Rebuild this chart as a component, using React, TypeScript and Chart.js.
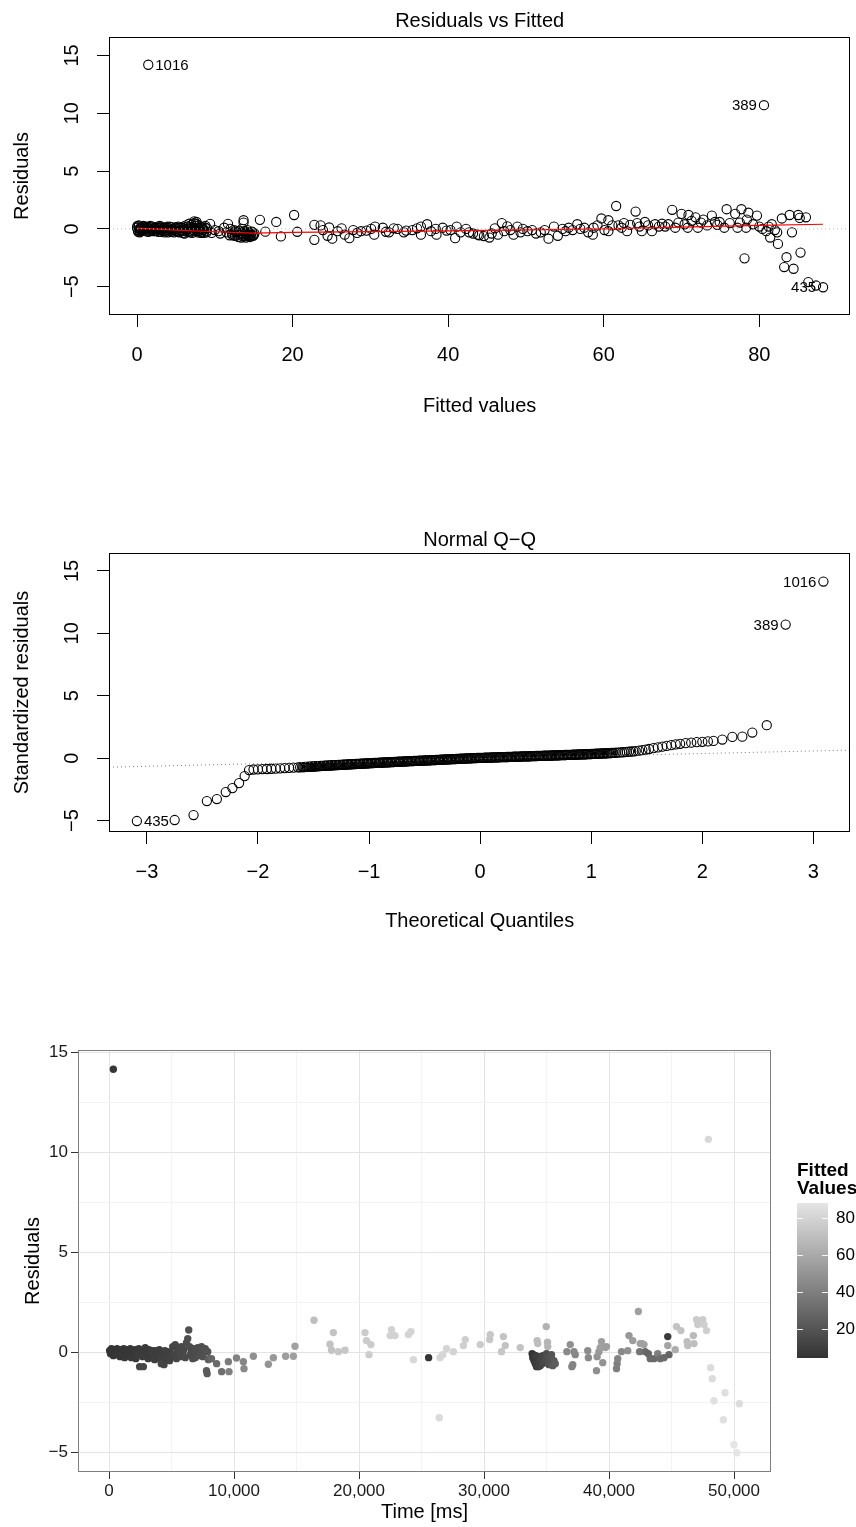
import React, { useEffect, useRef } from "react";
import { Chart, registerables } from "chart.js";
Chart.register(...registerables);

const FONT = "'Liberation Sans', Arial, Helvetica, sans-serif";

// ---------------- Panel 1: Residuals vs Fitted ----------------
const rvfTitle = "Residuals vs Fitted";
const rvfXTicks = [0, 20, 40, 60, 80];
const rvfYTicks = [-5, 0, 5, 10, 15];
const rvfXRange = [-3.6, 91.7];
const rvfYRange = [-7.45, 16.6];

// [fitted, residual]
const rvfLowCluster: [number, number][] = [
  [0.0, 0.1], [0.1, -0.1], [0.2, 0.2], [0.3, 0.0], [0.4, -0.2], [0.5, 0.15], [0.6, 0.05], [0.7, -0.1],
  [0.8, 0.25], [0.9, -0.05], [1.0, 0.1], [1.1, -0.2], [1.2, 0.2], [1.35, 0.0], [1.5, -0.15], [1.6, 0.15],
  [1.75, 0.05], [1.9, -0.1], [2.0, 0.2], [2.1, -0.2], [2.25, 0.1], [2.4, 0.0], [2.5, -0.15], [2.65, 0.2],
  [2.8, -0.05], [2.9, 0.1], [3.05, -0.25], [3.2, 0.15], [3.3, 0.0], [3.45, -0.2], [3.6, 0.1], [3.75, -0.05],
  [3.9, 0.2], [4.0, -0.3], [4.15, 0.05], [4.3, -0.15], [4.45, 0.15], [4.6, -0.05], [4.75, -0.3], [4.9, 0.1],
  [5.0, -0.2], [5.15, 0.0], [5.3, 0.2], [5.45, -0.3], [5.6, -0.1], [5.75, 0.1], [5.9, -0.35], [6.0, 0.05],
  [6.15, -0.2], [6.3, 0.3], [6.4, 0.0], [6.55, -0.25], [6.7, 0.45], [6.8, 0.15], [6.9, -0.15], [7.0, 0.35],
  [7.1, -0.35], [7.2, 0.1], [7.3, 0.5], [7.4, -0.2], [7.5, 0.25], [7.6, -0.05], [7.7, 0.4], [7.8, -0.3],
  [7.9, 0.1], [8.0, -0.15], [8.15, 0.2], [8.3, -0.25], [8.45, 0.0], [8.6, -0.35], [8.75, 0.1], [8.9, -0.2],
  [9.0, 0.05], [7.35, 0.65], [7.65, 0.6], [0.05, 0.25], [0.15, -0.25], [0.25, 0.3], [0.35, -0.3],
  [0.45, 0.0], [0.55, -0.15], [0.95, 0.2], [1.05, -0.05], [1.3, 0.1], [1.45, -0.25], [1.7, 0.25], [1.85, -0.2],
  [2.05, 0.0], [2.3, -0.2], [2.55, 0.1], [2.75, -0.25], [2.95, 0.25], [3.15, -0.1], [3.4, 0.05], [3.55, -0.3],
  [3.8, 0.1], [3.95, -0.15], [4.2, 0.2], [4.4, -0.25], [4.55, 0.0], [4.8, -0.1], [5.05, 0.15], [5.25, -0.25],
  [5.5, 0.1], [5.7, -0.2], [5.95, 0.2], [6.1, -0.4], [6.35, -0.1], [6.6, 0.2], [6.85, -0.3], [7.05, 0.15],
  [7.25, -0.1], [7.45, 0.05], [7.55, 0.45], [7.75, -0.15], [7.95, 0.3], [8.2, -0.35], [8.4, 0.15], [8.55, -0.1],
  [8.8, 0.25], [8.95, -0.3],
];
const rvfMidCluster: [number, number][] = [
  [9.4, 0.43], [9.6, -0.35], [10.0, -0.1], [10.5, -0.2], [10.7, -0.4], [11.2, 0.1], [11.7, 0.43], [11.5, -0.3],
  [11.9, -0.55], [12.0, 0.0], [12.2, -0.4], [12.4, -0.1], [12.6, -0.6], [12.8, -0.3], [13.0, -0.7], [13.1, -0.2],
  [13.3, -0.5], [13.4, -0.75], [13.5, 0.0], [13.6, -0.4], [13.7, 0.75], [13.7, 0.55], [13.8, -0.6], [13.9, -0.2],
  [14.0, -0.75], [14.1, -0.45], [14.2, -0.1], [14.3, -0.6], [14.4, -0.35], [14.5, -0.7], [14.6, -0.5], [14.8, -0.25],
  [14.9, -0.6], [15.1, -0.4], [12.3, -0.55], [12.5, -0.3], [12.7, -0.15], [12.9, -0.5], [13.2, -0.35], [13.6, -0.65],
  [13.85, -0.35], [14.05, -0.55], [14.25, -0.3], [14.45, -0.5], [14.7, -0.65], [15.0, -0.55],
];
const rvfSpread: [number, number][] = [
  [15.8, 0.78], [16.5, -0.24], [17.9, 0.6], [18.5, -0.65], [20.2, 1.2], [20.6, -0.25], [22.8, 0.35], [22.8, -0.95],
  [23.6, 0.3], [23.9, -0.1], [24.5, -0.6], [24.7, 0.12], [25.1, -0.85], [25.8, -0.2], [26.3, 0.05], [26.7, -0.5],
  [27.3, -0.8], [27.8, -0.1], [28.3, -0.35], [28.8, -0.2], [29.5, -0.15], [30.1, 0.0], [30.6, 0.2], [30.5, -0.5],
  [31.6, 0.1], [32.0, -0.25], [32.4, -0.3], [33.0, 0.05], [33.5, 0.0], [34.3, -0.3], [34.6, -0.15], [35.4, -0.1],
  [36.0, 0.05], [36.5, 0.2], [36.5, -0.5], [37.3, 0.4], [37.8, -0.2], [38.4, 0.0], [38.5, -0.5], [39.3, 0.1],
  [39.8, -0.15], [40.3, -0.1], [40.9, -0.8], [41.1, 0.2], [41.6, -0.3], [42.3, 0.0], [42.7, -0.3], [43.2, -0.4],
  [43.8, -0.5], [44.0, -0.55], [44.6, -0.62], [45.3, -0.75], [45.6, -0.4], [46.0, 0.05], [46.4, -0.5], [46.9, 0.5],
  [47.2, -0.2], [47.6, 0.22], [48.0, -0.1], [48.4, -0.5], [48.9, 0.2], [49.3, -0.3], [49.6, 0.0], [50.2, -0.2],
  [50.8, -0.1], [51.3, -0.4], [51.9, -0.3], [52.4, -0.1], [52.9, -0.85], [53.6, 0.2], [54.1, -0.6], [54.7, 0.0],
  [55.1, -0.2], [55.5, 0.1], [56.0, -0.1], [56.6, 0.4], [57.0, 0.0], [57.5, 0.1], [58.0, -0.3], [58.6, -0.5],
  [58.7, 0.1], [59.2, 0.3], [59.7, 0.9], [60.1, -0.1], [60.6, 0.75], [60.6, -0.2], [61.1, 0.3], [61.6, 1.98],
  [61.9, 0.3], [62.3, 0.1], [62.6, 0.5], [63.0, -0.2], [63.4, 0.35], [64.1, 1.5], [64.3, 0.5], [64.6, 0.2],
  [64.9, -0.2], [65.3, 0.6], [65.7, 0.3], [66.2, -0.2], [66.6, 0.4], [67.1, 0.2], [67.5, 0.45], [67.9, 0.2],
  [68.3, 0.4], [68.8, 1.65], [69.2, 0.1], [69.6, 0.55], [70.0, 1.3], [70.4, 0.4], [70.8, 0.1], [70.9, 1.2],
  [71.3, 0.7], [71.8, 1.0], [72.1, 0.1], [72.5, 0.55], [72.8, 0.8], [73.3, 0.3], [73.9, 1.15], [74.3, 0.6],
  [74.6, 0.35], [74.9, 0.6], [75.5, 0.1], [75.8, 1.7], [76.2, 0.5], [76.9, 1.3], [77.2, 0.1], [77.5, 0.55],
  [77.7, 1.7], [78.1, -2.55], [78.3, 0.1], [78.4, 0.8], [78.6, 1.4], [79.2, 0.4], [79.7, 1.15], [80.0, 0.2],
  [80.4, 0.0], [80.9, -0.2], [81.2, 0.2], [81.4, -0.75], [81.6, 0.4], [82.0, -0.1], [82.3, -0.3], [82.4, -1.3],
  [82.9, 0.9], [83.2, -3.3], [83.5, -2.45], [83.9, 1.2], [84.2, -0.3], [84.4, -3.45], [85.0, 1.2], [85.2, 0.95],
  [85.3, -2.05], [86.0, 1.0], [86.3, -4.6], [87.3, -4.9],
];
// [label, fitted, residual]
const rvfIds: [string, number, number][] = [
  ["1016", 1.45, 14.2],
  ["389", 80.6, 10.7],
  ["435", 88.2, -5.05],
];
const lowessFitted = [0, 5, 10, 15, 20, 30, 40, 50, 60, 70, 80, 88.2];
const lowessResid = [0.06, -0.1, -0.25, -0.37, -0.3, -0.24, -0.18, -0.08, 0.0, 0.15, 0.3, 0.4];

// ---------------- Panel 2: Normal Q-Q ----------------
const qqTitle = "Normal Q\u2212Q";
const qqXTicks = [-3, -2, -1, 0, 1, 2, 3];
const qqYTicks = [-5, 0, 5, 10, 15];
const qqXRange = [-3.341, 3.332];
const qqYRange = [-5.92, 16.44];
const qqLineIntercept = -0.039;
const qqLineSlope = 0.2045;
// [theoretical quantile, standardized residual]
const qqLowerTail: [number, number][] = [
  [-3.09, -5.04], [-2.75, -4.96], [-2.58, -4.56], [-2.46, -3.44], [-2.37, -3.28], [-2.29, -2.72],
  [-2.23, -2.4], [-2.17, -2.0], [-2.12, -1.44], [-2.08, -0.96],
  [-2.04, -0.91], [-2.0, -0.9], [-1.96, -0.88], [-1.92, -0.87], [-1.88, -0.85], [-1.84, -0.84], [-1.8, -0.82],
  [-1.76, -0.8], [-1.72, -0.78], [-1.68, -0.76], [-1.64, -0.74], [-1.62, -0.73],
];
const qqBand: [number, number][] = [
  [-1.6, -0.72], [-1.58, -0.71], [-1.56, -0.7], [-1.54, -0.69], [-1.52, -0.68], [-1.5, -0.67], [-1.48, -0.655],
  [-1.46, -0.645], [-1.44, -0.63], [-1.42, -0.62], [-1.4, -0.61], [-1.38, -0.6], [-1.36, -0.59], [-1.34, -0.58],
  [-1.32, -0.57], [-1.3, -0.56], [-1.28, -0.55], [-1.26, -0.54], [-1.24, -0.53], [-1.22, -0.52], [-1.2, -0.51],
  [-1.18, -0.5], [-1.16, -0.49], [-1.14, -0.48], [-1.12, -0.47], [-1.1, -0.46], [-1.08, -0.45], [-1.06, -0.44],
  [-1.04, -0.43], [-1.02, -0.42], [-1.0, -0.41], [-0.98, -0.4], [-0.96, -0.39], [-0.94, -0.385], [-0.92, -0.375],
  [-0.9, -0.365], [-0.88, -0.355], [-0.86, -0.345], [-0.84, -0.34], [-0.82, -0.33], [-0.8, -0.32], [-0.78, -0.31],
  [-0.76, -0.3], [-0.74, -0.29], [-0.72, -0.285], [-0.7, -0.275], [-0.68, -0.265], [-0.66, -0.255], [-0.64, -0.245],
  [-0.62, -0.24], [-0.6, -0.23], [-0.58, -0.22], [-0.56, -0.215], [-0.54, -0.205], [-0.52, -0.2], [-0.5, -0.19],
  [-0.48, -0.18], [-0.46, -0.175], [-0.44, -0.165], [-0.42, -0.16], [-0.4, -0.15], [-0.38, -0.14], [-0.36, -0.13],
  [-0.34, -0.12], [-0.32, -0.11], [-0.3, -0.105], [-0.28, -0.095], [-0.26, -0.085], [-0.24, -0.075], [-0.22, -0.07],
  [-0.2, -0.06], [-0.18, -0.05], [-0.16, -0.04], [-0.14, -0.035], [-0.12, -0.025], [-0.1, -0.015], [-0.08, -0.01],
  [-0.06, 0.0], [-0.04, 0.005], [-0.02, 0.015], [0.0, 0.02], [0.02, 0.025], [0.04, 0.03], [0.06, 0.04],
  [0.08, 0.045], [0.1, 0.05], [0.12, 0.055], [0.14, 0.06], [0.16, 0.07], [0.18, 0.075], [0.2, 0.08],
  [0.22, 0.085], [0.24, 0.09], [0.26, 0.095], [0.28, 0.1], [0.3, 0.11], [0.32, 0.115], [0.34, 0.12],
  [0.36, 0.125], [0.38, 0.135], [0.4, 0.14], [0.42, 0.145], [0.44, 0.15], [0.46, 0.155], [0.48, 0.16],
  [0.5, 0.17], [0.52, 0.175], [0.54, 0.18], [0.56, 0.185], [0.58, 0.195], [0.6, 0.2], [0.62, 0.205],
  [0.64, 0.21], [0.66, 0.215], [0.68, 0.225], [0.7, 0.23], [0.72, 0.235], [0.74, 0.24], [0.76, 0.25],
  [0.78, 0.255], [0.8, 0.26], [0.82, 0.265], [0.84, 0.275], [0.86, 0.28], [0.88, 0.29], [0.9, 0.295],
  [0.92, 0.3], [0.94, 0.31], [0.96, 0.315], [0.98, 0.325], [1.0, 0.33], [1.02, 0.34], [1.04, 0.35],
  [1.06, 0.36], [1.08, 0.365], [1.1, 0.375], [1.12, 0.385], [1.14, 0.39], [1.16, 0.4], [1.18, 0.41],
  [1.2, 0.42], [1.22, 0.43], [1.24, 0.445], [1.26, 0.455], [1.28, 0.47], [1.3, 0.485], [1.32, 0.5],
  [1.34, 0.515], [1.36, 0.53], [1.38, 0.545], [1.4, 0.56],
];
// the densest, solid-looking core of the Q-Q band
const qqBandCore: [number, number][] = [
  [-1.59, -0.715], [-1.57, -0.705], [-1.55, -0.695], [-1.53, -0.685], [-1.51, -0.675], [-1.49, -0.662],
  [-1.47, -0.65], [-1.45, -0.637], [-1.43, -0.625], [-1.41, -0.615], [-1.39, -0.605], [-1.37, -0.595],
  [-1.35, -0.585], [-1.33, -0.575], [-1.31, -0.565], [-1.29, -0.555], [-1.27, -0.545], [-1.25, -0.535],
  [-1.23, -0.525], [-1.21, -0.515], [-1.19, -0.505], [-1.17, -0.495], [-1.15, -0.485], [-1.13, -0.475],
  [-1.11, -0.465], [-1.09, -0.455], [-1.07, -0.445], [-1.05, -0.435], [-1.03, -0.425], [-1.01, -0.415],
  [-0.99, -0.405], [-0.97, -0.395], [-0.95, -0.388], [-0.93, -0.38], [-0.91, -0.37], [-0.89, -0.36],
  [-0.87, -0.35], [-0.85, -0.342], [-0.83, -0.335], [-0.81, -0.325], [-0.79, -0.315], [-0.77, -0.305],
  [-0.75, -0.295], [-0.73, -0.288], [-0.71, -0.28], [-0.69, -0.27], [-0.67, -0.26], [-0.65, -0.25],
  [-0.63, -0.242], [-0.61, -0.235], [-0.59, -0.225], [-0.57, -0.218], [-0.55, -0.21], [-0.53, -0.202],
  [-0.51, -0.195], [-0.49, -0.185], [-0.47, -0.178], [-0.45, -0.17], [-0.43, -0.162], [-0.41, -0.155],
  [-0.39, -0.145], [-0.37, -0.135], [-0.35, -0.125], [-0.33, -0.115], [-0.31, -0.108], [-0.29, -0.1],
  [-0.27, -0.09], [-0.25, -0.08], [-0.23, -0.072], [-0.21, -0.065], [-0.19, -0.055], [-0.17, -0.045],
  [-0.15, -0.038], [-0.13, -0.03], [-0.11, -0.02], [-0.09, -0.012], [-0.07, -0.005], [-0.05, 0.003],
  [-0.03, 0.01], [-0.01, 0.018], [0.01, 0.022], [0.03, 0.028], [0.05, 0.035], [0.07, 0.042],
  [0.09, 0.048], [0.11, 0.052], [0.13, 0.058], [0.15, 0.065], [0.17, 0.072], [0.19, 0.078],
  [0.21, 0.082], [0.23, 0.088], [0.25, 0.092], [0.27, 0.098], [0.29, 0.105], [0.31, 0.112],
  [0.33, 0.118], [0.35, 0.122], [0.37, 0.13], [0.39, 0.138], [0.41, 0.142], [0.43, 0.148],
  [0.45, 0.152], [0.47, 0.158], [0.49, 0.165], [0.51, 0.172], [0.53, 0.178], [0.55, 0.182],
  [0.57, 0.19], [0.59, 0.198], [0.61, 0.202], [0.63, 0.208], [0.65, 0.212], [0.67, 0.22],
  [0.69, 0.228], [0.71, 0.232], [0.73, 0.238], [0.75, 0.245], [0.77, 0.252], [0.79, 0.258],
  [0.81, 0.262], [0.83, 0.27], [0.85, 0.278], [0.87, 0.285], [0.89, 0.292], [0.91, 0.298],
  [0.93, 0.305], [0.95, 0.312], [0.97, 0.32], [0.99, 0.328], [1.01, 0.335], [1.03, 0.345],
  [1.05, 0.355], [1.07, 0.362], [1.09, 0.37], [1.11, 0.38], [1.13, 0.388], [1.15, 0.395],
  [1.17, 0.405], [1.19, 0.415],
];
const qqUpperTail: [number, number][] = [
  [1.43, 0.6], [1.46, 0.64], [1.49, 0.68], [1.52, 0.73], [1.56, 0.8], [1.6, 0.86],
  [1.64, 0.92], [1.68, 0.98], [1.72, 1.04], [1.76, 1.1], [1.8, 1.15], [1.85, 1.2], [1.9, 1.24], [1.95, 1.28],
  [2.0, 1.31], [2.05, 1.34], [2.1, 1.38], [2.18, 1.49], [2.27, 1.7], [2.36, 1.72], [2.45, 2.05], [2.58, 2.64],
];
const qqIds: [string, number, number][] = [
  ["1016", 3.09, 14.15],
  ["389", 2.75, 10.7],
  ["435", -3.09, -5.04],
];

// ---------------- Panel 3: Residuals over time ----------------
const timeXMajor = [0, 10000, 20000, 30000, 40000, 50000];
const timeXGrid = [0, 5000, 10000, 15000, 20000, 25000, 30000, 35000, 40000, 45000, 50000];
const timeYMajor = [-5, 0, 5, 10, 15];
const timeYGrid = [-5, -2.5, 0, 2.5, 5, 7.5, 10, 12.5, 15];
const timeXRange = [-2480, 52960];
const timeYRange = [-5.96, 15.11];
const legendTicks = [20, 40, 60, 80];
// [time ms, residual, fitted]
const timeEarly: [number, number, number][] = [
  [50, 0.1, 4.2], [120, -0.05, 4.5], [200, 0.2, 4.3], [280, 0.0, 5], [350, -0.15, 4.6], [347, 14.15, 5.5],
  [430, 0.15, 5], [500, 0.05, 4.4], [580, -0.1, 5.2], [650, 0.2, 4.8], [730, -0.05, 5.5], [800, 0.1, 5],
  [880, -0.2, 5.8], [950, 0.15, 5.2], [1030, 0.0, 5], [1100, -0.1, 6], [1180, 0.2, 5.5], [1250, -0.25, 6.5],
  [1330, 0.05, 6], [1400, 0.15, 5.5], [1480, -0.15, 6.5], [1550, 0.1, 6], [1630, -0.05, 6.5], [1700, 0.2, 6],
  [1780, -0.25, 7], [1850, 0.0, 6.5], [1930, 0.1, 6], [2000, -0.15, 7], [2080, 0.15, 6.5], [2150, -0.3, 7.5],
  [2230, 0.05, 7], [2300, -0.1, 7.5], [2380, 0.2, 7], [2450, -0.7, 12], [2530, -0.05, 7.5], [2600, 0.1, 7.5],
  [2680, -0.2, 8], [2750, -0.7, 13], [2830, 0.0, 8], [2900, 0.25, 7.5], [2980, -0.15, 8], [3050, 0.05, 8],
  [3130, -0.3, 8.5], [3200, 0.15, 8], [3280, -0.1, 8.5], [3350, 0.0, 8.5], [3430, -0.25, 9], [3500, 0.1, 8.5],
  [3580, -0.05, 9], [3650, -0.35, 9.5], [3730, 0.1, 9], [3800, -0.2, 9.5], [3880, 0.05, 9], [3950, -0.1, 9.5],
  [4030, 0.15, 9], [4100, -0.3, 10], [4180, -0.55, 12], [4250, -0.15, 10], [4330, 0.0, 10], [4400, -0.6, 12],
  [4480, 0.1, 10], [4550, -0.25, 10.5], [4630, -0.35, 11], [4700, 0.05, 10.5], [4780, -0.15, 11], [4850, -0.4, 11.5],
  [4930, 0.0, 11], [5000, -0.2, 11.5], [5100, 0.3, 12], [5200, -0.1, 12], [5300, 0.4, 13], [5400, -0.3, 12.5],
  [5500, 0.1, 13], [5600, 0.05, 13], [5700, -0.2, 13.5], [5800, 0.3, 14], [5900, -0.05, 14], [6000, 0.15, 14],
  [6100, -0.25, 14.5], [6200, 0.5, 16], [6300, 0.7, 17], [6380, 1.13, 18], [6450, 0.3, 16], [6500, -0.1, 15],
  [6600, 0.1, 15], [6700, -0.3, 15.5], [6800, 0.2, 16], [6900, -0.25, 16], [7000, 0.0, 16], [7100, 0.25, 16.5],
  [7200, -0.15, 17], [7300, 0.05, 17], [7400, 0.3, 17.5], [7500, -0.2, 18], [7600, 0.1, 18], [7700, 0.2, 18],
  [7800, -0.9, 22], [7850, -1.05, 22], [7900, 0.05, 19], [7950, -0.35, 26], [8000, -0.3, 24],
];
const timeMiddle: [number, number, number][] = [
  [8200, -0.3, 28], [8610, -0.55, 30], [9010, -0.95, 32], [9550, -0.45, 38], [9600, -0.95, 40], [10200, -0.27, 42],
  [10750, -0.45, 44], [10800, -0.8, 45], [11550, -0.18, 48], [12750, -0.58, 50], [13150, -0.25, 52], [14130, -0.18, 54],
  [14750, -0.18, 55], [14880, 0.32, 56], [16400, 1.62, 70], [17680, 0.42, 72], [17950, 1.0, 72], [17800, 0.12, 72],
  [18350, 0.05, 74], [18880, 0.12, 74], [20480, 1.0, 76], [20600, 0.6, 76], [20950, 0.4, 76], [20800, -0.1, 77],
  [22600, 1.15, 79], [22500, 0.85, 79], [22880, 0.85, 79], [23950, 0.9, 80], [24150, 1.05, 80], [24350, -0.35, 82],
  [25570, -0.25, 5], [26420, -3.25, 83], [26480, -0.25, 81], [26700, -0.1, 81], [27000, 0.2, 80], [27550, 0.05, 80],
  [28350, 0.35, 78], [28500, 0.65, 78], [29700, 0.4, 76], [30450, 0.65, 74], [30500, 0.9, 74], [31550, 0.8, 72],
  [31700, 0.35, 72], [31400, 0.05, 74], [32900, 0.25, 72], [34250, 0.6, 70], [34300, 0.45, 70], [34980, 1.3, 64],
  [35080, 0.52, 66], [35100, 0.3, 66],
  [33850, -0.05, 5], [33900, -0.25, 6], [33950, -0.1, 5], [34000, -0.4, 6], [34050, -0.3, 7], [34100, -0.55, 8],
  [34150, -0.15, 8], [34200, -0.7, 9], [34250, -0.6, 9], [34300, -0.2, 10], [34350, -0.7, 10], [34400, -0.45, 10],
  [34450, -0.2, 10], [34500, -0.65, 11], [34550, -0.3, 11], [34600, -0.3, 12], [34650, -0.55, 12], [34700, -0.15, 13],
  [34750, -0.35, 13], [34800, -0.5, 14], [34900, -0.35, 15], [35000, -0.05, 16], [35100, -0.25, 17], [35150, -0.45, 17],
  [35200, -0.6, 18], [35300, -0.4, 19], [35350, -0.2, 19], [35400, -0.1, 20], [35500, -0.65, 22], [35600, -0.4, 22],
  [35700, -0.55, 24],
];
const timeLate: [number, number, number][] = [
  [36630, 0.05, 45], [36900, 0.4, 48], [37030, -0.7, 42], [37100, -0.6, 42], [37200, 0.05, 45], [37300, -0.1, 44],
  [38300, 0.1, 46], [38350, -0.25, 45], [39000, -0.9, 48], [39050, -0.2, 50], [39200, 0.05, 52], [39300, 0.25, 55],
  [39400, 0.55, 55], [39500, -0.5, 50], [39700, 0.25, 56], [39800, 0.3, 54], [40600, -0.8, 40], [40650, -0.55, 40],
  [40700, -0.3, 42], [41000, 0.05, 45], [41500, 0.1, 48], [41600, 0.85, 52], [41900, 0.6, 54], [42350, 2.05, 55],
  [42450, 0.05, 35], [42500, 0.45, 56], [42650, 0.45, 56], [42800, 0.4, 56], [42900, 0.05, 30], [43150, -0.05, 28],
  [43300, -0.3, 30], [43600, -0.3, 30], [43900, -0.05, 40], [44100, -0.3, 32], [44400, -0.25, 30], [44700, 0.35, 58],
  [44700, 0.8, 8], [44800, -0.1, 28], [45300, 0.15, 62], [45400, 1.3, 72], [45750, 1.1, 72], [46250, 0.55, 70],
  [46300, 0.35, 70], [46750, 0.85, 68], [46800, 0.45, 70], [47000, 1.65, 76], [47100, 1.4, 76], [47500, 1.65, 76],
  [47600, 1.4, 78], [47800, 1.1, 78], [47950, 10.65, 82], [48130, -0.75, 84], [48260, -1.3, 84], [48400, -2.4, 86],
  [49150, -3.35, 86], [49280, -2.0, 85], [50000, -4.6, 88], [50220, -5.0, 88.2], [50430, -2.55, 84],
];

const GREY_LOW = 51;
const GREY_HIGH = 229;

const fmtMinus = (v: number) => (v < 0 ? "\u2212" + Math.abs(v) : String(v));
const fmtThousands = (v: number) => v.toLocaleString("en-US");

function rDecor(title: string, titleY: number, yTicks: number[], ids: [string, number, number][], midX: number, refLine: { color: string; fn: (x: number) => number }) {
  return {
    id: "rDecor" + title.length,
    afterDatasetsDraw(chart: any) {
      const { ctx, chartArea: a, scales } = chart;
      ctx.save();
      ctx.beginPath();
      ctx.rect(a.left, a.top, a.right - a.left, a.bottom - a.top);
      ctx.clip();
      ctx.strokeStyle = refLine.color;
      ctx.lineWidth = 1;
      ctx.setLineDash([1, 3]);
      const x0 = scales.x.min, x1 = scales.x.max;
      ctx.beginPath();
      ctx.moveTo(scales.x.getPixelForValue(x0), scales.y.getPixelForValue(refLine.fn(x0)));
      ctx.lineTo(scales.x.getPixelForValue(x1), scales.y.getPixelForValue(refLine.fn(x1)));
      ctx.stroke();
      ctx.restore();
    },
    afterDraw(chart: any) {
      const { ctx, chartArea: a, scales } = chart;
      ctx.save();
      ctx.strokeStyle = "#000";
      ctx.lineWidth = 1;
      ctx.strokeRect(Math.round(a.left) + 0.5, Math.round(a.top) + 0.5, Math.round(a.right - a.left) - 1, Math.round(a.bottom - a.top) - 1);
      ctx.fillStyle = "#000";
      ctx.font = `20px ${FONT}`;
      ctx.textAlign = "center";
      ctx.textBaseline = "middle";
      ctx.fillText(title, (a.left + a.right) / 2, titleY);
      for (const v of yTicks) {
        const py = scales.y.getPixelForValue(v);
        ctx.save();
        ctx.translate(72, py);
        ctx.rotate(-Math.PI / 2);
        ctx.fillText(fmtMinus(v), 0, 0);
        ctx.restore();
      }
      ctx.font = `15px ${FONT}`;
      for (const [lab, x, y] of ids) {
        const px = scales.x.getPixelForValue(x);
        const py = scales.y.getPixelForValue(y);
        if (x > midX) {
          ctx.textAlign = "right";
          ctx.fillText(lab, px - 7, py + 1);
        } else {
          ctx.textAlign = "left";
          ctx.fillText(lab, px + 7, py + 1);
        }
      }
      ctx.restore();
    },
  };
}

function rAxes(xRange: number[], yRange: number[], xTicks: number[], yTicks: number[], xTitle: string, yTitle: string, xHeight: number, xTitlePad: number) {
  const grid = { drawOnChartArea: false, drawTicks: true, tickLength: 12, tickColor: "#000", color: "#000", lineWidth: 1 };
  return {
    x: {
      type: "linear",
      min: xRange[0],
      max: xRange[1],
      afterBuildTicks: (s: any) => { s.ticks = xTicks.map((v) => ({ value: v })); },
      afterFit: (s: any) => { s.height = xHeight; },
      ticks: { callback: (v: number) => fmtMinus(v), font: { size: 20, family: FONT }, color: "#000", padding: 16, maxRotation: 0, autoSkip: false },
      grid,
      border: { display: false },
      title: { display: true, text: xTitle, font: { size: 20, family: FONT }, color: "#000", padding: { top: 0, bottom: xTitlePad } },
    },
    y: {
      type: "linear",
      min: yRange[0],
      max: yRange[1],
      afterBuildTicks: (s: any) => { s.ticks = yTicks.map((v) => ({ value: v })); },
      afterFit: (s: any) => { s.width = 109; },
      ticks: { display: false },
      grid,
      border: { display: false },
      title: { display: true, text: yTitle, font: { size: 20, family: FONT }, color: "#000", padding: { top: 10, bottom: 0 } },
    },
  };
}

const circleStyle = { pointStyle: "circle", pointRadius: 4.6, pointBorderWidth: 1.1, pointBorderColor: "#000", pointBackgroundColor: "rgba(0,0,0,0)", showLine: false };

function cfgRvf(): any {
  const pts = [...rvfLowCluster, ...rvfMidCluster, ...rvfSpread, ...rvfIds.map((d) => [d[1], d[2]] as [number, number])];
  const xs = pts.map((p) => p[0]);
  const midX = (Math.min(...xs) + Math.max(...xs)) / 2;
  return {
    type: "scatter",
    data: {
      datasets: [
        { type: "line", data: lowessFitted.map((x, i) => ({ x, y: lowessResid[i] })), borderColor: "#ff0000", borderWidth: 1.2, pointRadius: 0, showLine: true, fill: false, tension: 0 },
        { data: pts.map(([x, y]) => ({ x, y })), ...circleStyle },
      ],
    },
    options: {
      animation: false, responsive: false, maintainAspectRatio: false, events: [],
      layout: { padding: { left: 0, top: 37, right: 4, bottom: 0 } },
      plugins: { legend: { display: false }, tooltip: { enabled: false }, title: { display: false } },
      scales: rAxes(rvfXRange, rvfYRange, rvfXTicks, rvfYTicks, "Fitted values", "Residuals", 135, 32),
    },
    plugins: [rDecor(rvfTitle, 21, rvfYTicks, rvfIds, midX, { color: "#bebebe", fn: () => 0 })],
  };
}

function cfgQQ(): any {
  const pts = [...qqLowerTail, ...qqBand, ...qqBandCore, ...qqUpperTail, [qqIds[1][1], qqIds[1][2]] as [number, number], [qqIds[0][1], qqIds[0][2]] as [number, number]];
  const xs = pts.map((p) => p[0]);
  const midX = (Math.min(...xs) + Math.max(...xs)) / 2;
  return {
    type: "scatter",
    data: { datasets: [{ data: pts.map(([x, y]) => ({ x, y })), ...circleStyle }] },
    options: {
      animation: false, responsive: false, maintainAspectRatio: false, events: [],
      layout: { padding: { left: 0, top: 73, right: 4, bottom: 0 } },
      plugins: { legend: { display: false }, tooltip: { enabled: false }, title: { display: false } },
      scales: rAxes(qqXRange, qqYRange, qqXTicks, qqYTicks, "Theoretical Quantiles", "Standardized residuals", 128, 27),
    },
    plugins: [rDecor(qqTitle, 60, qqYTicks, qqIds, midX, { color: "#7f7f7f", fn: (x) => qqLineIntercept + qqLineSlope * x })],
  };
}

function cfgTime(): any {
  const pts = [...timeEarly, ...timeMiddle, ...timeLate];
  const fs = pts.map((p) => p[2]);
  const fMin = Math.min(...fs);
  const fMax = Math.max(...fs);
  const grey = (f: number) => {
    const c = Math.round(GREY_LOW + ((f - fMin) / (fMax - fMin)) * (GREY_HIGH - GREY_LOW));
    return `rgb(${c},${c},${c})`;
  };
  const legendPlugin = {
    id: "ggDecor",
    afterDraw(chart: any) {
      const { ctx, chartArea: a } = chart;
      ctx.save();
      ctx.strokeStyle = "#7f7f7f";
      ctx.lineWidth = 1;
      ctx.strokeRect(Math.round(a.left) + 0.5, Math.round(a.top) + 0.5, Math.round(a.right - a.left) - 1, Math.round(a.bottom - a.top) - 1);
      // legend (colour bar)
      const barL = 797, barW = 31, barT = 203, barB = 358;
      ctx.fillStyle = "#000";
      ctx.font = `bold 19px ${FONT}`;
      ctx.textAlign = "left";
      ctx.textBaseline = "middle";
      ctx.fillText("Fitted", barL, 171);
      ctx.fillText("Values", barL, 189);
      const g = ctx.createLinearGradient(0, barB, 0, barT);
      g.addColorStop(0, grey(fMin));
      g.addColorStop(0.5, grey((fMin + fMax) / 2));
      g.addColorStop(1, grey(fMax));
      ctx.fillStyle = g;
      ctx.fillRect(barL, barT, barW, barB - barT);
      const toY = (v: number) => barB - ((v - fMin) / (fMax - fMin)) * (barB - barT);
      ctx.strokeStyle = "rgba(255,255,255,0.9)";
      ctx.font = `17px ${FONT}`;
      ctx.fillStyle = "#000";
      for (const v of legendTicks) {
        const y = Math.round(toY(v)) + 0.5;
        ctx.beginPath();
        ctx.moveTo(barL, y); ctx.lineTo(barL + 6, y);
        ctx.moveTo(barL + barW - 6, y); ctx.lineTo(barL + barW, y);
        ctx.stroke();
        ctx.fillText(String(v), barL + barW + 8, toY(v));
      }
      ctx.restore();
    },
  };
  const isMajorX = (v: number) => timeXMajor.includes(v);
  const isMajorY = (v: number) => timeYMajor.includes(v);
  return {
    type: "scatter",
    data: {
      datasets: [{
        data: pts.map(([t, r]) => ({ x: t, y: r })),
        pointStyle: "circle", pointRadius: 3.7, pointBorderWidth: 0,
        pointBackgroundColor: pts.map((p) => grey(p[2])),
      }],
    },
    options: {
      animation: false, responsive: false, maintainAspectRatio: false, events: [],
      layout: { padding: { left: 0, top: 50, right: 85, bottom: 0 } },
      plugins: { legend: { display: false }, tooltip: { enabled: false }, title: { display: false } },
      scales: {
        x: {
          type: "linear", min: timeXRange[0], max: timeXRange[1],
          afterBuildTicks: (s: any) => { s.ticks = timeXGrid.map((v) => ({ value: v })); },
          afterFit: (s: any) => { s.height = 55; },
          ticks: { callback: (v: number) => (isMajorX(v) ? fmtThousands(v) : ""), font: { size: 17, family: FONT }, color: "#1a1a1a", padding: 2, maxRotation: 0, autoSkip: false },
          grid: {
            drawOnChartArea: true, drawTicks: true, tickLength: 7, lineWidth: 1,
            color: (c: any) => (isMajorX(c.tick?.value) ? "#e3e3e3" : "#f3f3f3"),
            tickColor: (c: any) => (isMajorX(c.tick?.value) ? "#333" : "rgba(0,0,0,0)"),
          },
          border: { display: false },
          title: { display: true, text: "Time [ms]", font: { size: 20, family: FONT }, color: "#000", padding: { top: 0, bottom: 3 } },
        },
        y: {
          type: "linear", min: timeYRange[0], max: timeYRange[1],
          afterBuildTicks: (s: any) => { s.ticks = timeYGrid.map((v) => ({ value: v })); },
          afterFit: (s: any) => { s.width = 78; },
          ticks: { callback: (v: number) => (isMajorY(v) ? fmtMinus(v) : ""), font: { size: 17, family: FONT }, color: "#1a1a1a", padding: 3, autoSkip: false },
          grid: {
            drawOnChartArea: true, drawTicks: true, tickLength: 7, lineWidth: 1,
            color: (c: any) => (isMajorY(c.tick?.value) ? "#e3e3e3" : "#f3f3f3"),
            tickColor: (c: any) => (isMajorY(c.tick?.value) ? "#333" : "rgba(0,0,0,0)"),
          },
          border: { display: false },
          title: { display: true, text: "Residuals", font: { size: 20, family: FONT }, color: "#000", padding: { top: 21, bottom: 0 } },
        },
      },
    },
    plugins: [legendPlugin],
  };
}

export default function App() {
  const r1 = useRef<HTMLCanvasElement>(null);
  const r2 = useRef<HTMLCanvasElement>(null);
  const r3 = useRef<HTMLCanvasElement>(null);
  useEffect(() => {
    const c1 = new Chart(r1.current as HTMLCanvasElement, cfgRvf());
    const c2 = new Chart(r2.current as HTMLCanvasElement, cfgQQ());
    const c3 = new Chart(r3.current as HTMLCanvasElement, cfgTime());
    return () => { c1.destroy(); c2.destroy(); c3.destroy(); };
  }, []);
  return (
    <div style={{ position: "absolute", left: 0, top: 0, width: 856, height: 1527, background: "#fff" }}>
      <canvas ref={r1} width={856} height={450} style={{ position: "absolute", left: 0, top: 0, width: 856, height: 450 }} />
      <canvas ref={r2} width={856} height={480} style={{ position: "absolute", left: 0, top: 480, width: 856, height: 480 }} />
      <canvas ref={r3} width={856} height={527} style={{ position: "absolute", left: 0, top: 1000, width: 856, height: 527 }} />
    </div>
  );
}
